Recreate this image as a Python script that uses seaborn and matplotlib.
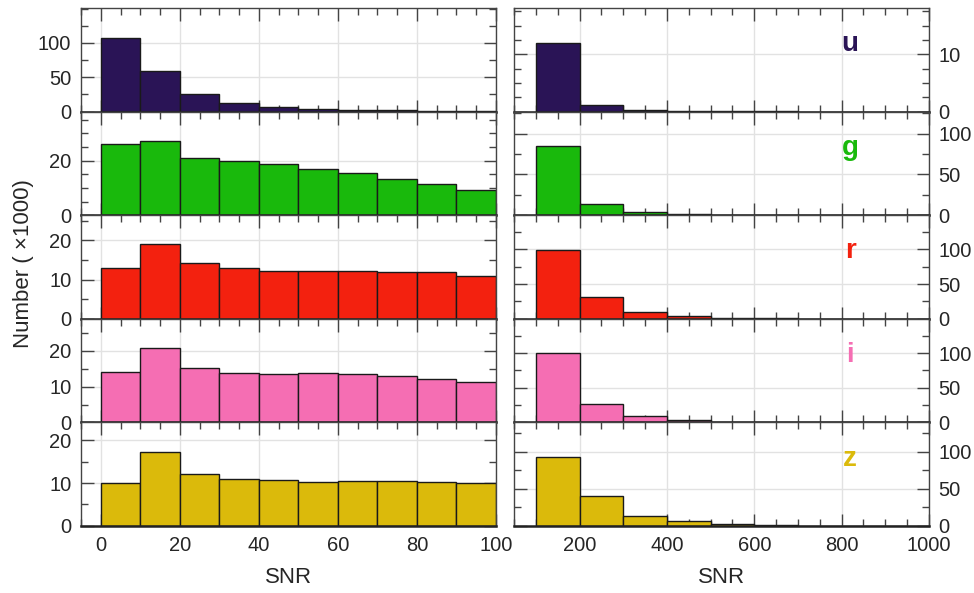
import numpy as np
import pandas as pd
import seaborn as sns
import matplotlib.pyplot as plt
from matplotlib.ticker import MultipleLocator

bands = ['u', 'g', 'r', 'i', 'z']
colors = ['#2a1456', '#19b90c', '#f3210f', '#f56eb3', '#dbba0b']

# bin edges (SNR)
low_edges = [0, 10, 20, 30, 40, 50, 60, 70, 80, 90, 100]
high_edges = [100, 200, 300, 400, 500, 600, 700, 800, 900, 1000]

# counts per bin, in units of 1000
u_low = [107, 58.5, 26, 12.7, 6.8, 3.9, 2.4, 2.0, 1.5, 1.0]
g_low = [26.0, 27.2, 21.1, 19.7, 18.6, 16.8, 15.5, 13.2, 11.3, 9.4]
r_low = [12.9, 19.0, 14.2, 12.9, 12.3, 12.3, 12.3, 12.0, 11.9, 11.0]
i_low = [14.1, 20.8, 15.3, 13.9, 13.6, 13.8, 13.5, 13.0, 12.2, 11.3]
z_low = [10.0, 17.15, 12.2, 11.0, 10.6, 10.2, 10.5, 10.5, 10.2, 10.05]

u_high = [12.06, 1.13, 0.25, 0.08, 0.04, 0.02, 0.01, 0.01, 0.005]
g_high = [85, 14.3, 4.0, 1.2, 0.5, 0.3, 0.15, 0.1, 0.05]
r_high = [99, 30.7, 10.2, 3.5, 1.2, 0.5, 0.25, 0.15, 0.1]
i_high = [99.5, 26, 9, 3.8, 1.2, 0.5, 0.25, 0.15, 0.1]
z_high = [92.8, 39.9, 13.5, 6.3, 3.1, 1.3, 0.6, 0.3, 0.1]

low_counts = [u_low, g_low, r_low, i_low, z_low]
high_counts = [u_high, g_high, r_high, i_high, z_high]

# axis settings per row
low_ylim = [151, 38, 26.4, 29, 24.1]
low_ticks = [[0, 50, 100], [0, 20], [0, 10, 20], [0, 10, 20], [0, 10, 20]]
low_minor = [25, 5, 5, 5, 5]
high_ylim = [18.1, 127, 149, 149.5, 140]
high_ticks = [[0, 10], [0, 50, 100], [0, 50, 100], [0, 50, 100], [0, 50, 100]]
high_minor = [2.5, 25, 25, 25, 25]

sns.set_style("ticks")
plt.rcParams['font.family'] = ['Liberation Sans', 'DejaVu Sans']
plt.rcParams['text.color'] = '#262626'

fig, axes = plt.subplots(5, 2, figsize=(9.74, 5.93), dpi=100)
fig.subplots_adjust(left=0.0832, right=0.9538, top=0.9865, bottom=0.113,
                    hspace=0, wspace=0.0434)

def style_axis(ax, ylim, ticks, minor, right_side):
    ax.set_ylim(0, ylim)
    ax.set_yticks(ticks)
    ax.yaxis.set_minor_locator(MultipleLocator(minor))
    ax.set_axisbelow(True)
    ax.grid(True, which='major', color='#e2e2e2', lw=1)
    ax.tick_params(which='both', direction='in', top=True, bottom=True,
                   left=True, right=True, colors='#444444',
                   labelcolor='#262626', labelsize=14.5, width=1, pad=7)
    ax.tick_params(which='major', length=9)
    ax.tick_params(which='minor', length=5)
    ax.tick_params(axis='y', labelleft=not right_side, labelright=right_side)
    for s in ['top', 'left', 'right']:
        ax.spines[s].set_color('#444444')
        ax.spines[s].set_linewidth(1)
    ax.spines['bottom'].set_color('#222222')
    ax.spines['bottom'].set_linewidth(1.8)
    ax.set_ylabel('')
    ax.set_xlabel('')

for k, band in enumerate(bands):
    axl = axes[k, 0]
    axr = axes[k, 1]
    low_mid = (np.array(low_edges[:-1]) + np.array(low_edges[1:])) / 2
    high_mid = (np.array(high_edges[:-1]) + np.array(high_edges[1:])) / 2
    sns.histplot(x=low_mid, weights=low_counts[k], bins=low_edges, ax=axl,
                 color=colors[k], alpha=1, edgecolor='#1a1a1a', linewidth=1)
    sns.histplot(x=high_mid, weights=high_counts[k], bins=high_edges, ax=axr,
                 color=colors[k], alpha=1, edgecolor='#1a1a1a', linewidth=1)

    axl.set_xlim(-5, 100)
    axl.xaxis.set_major_locator(MultipleLocator(20))
    axl.xaxis.set_minor_locator(MultipleLocator(5))
    axr.set_xlim(50, 1000)
    axr.xaxis.set_major_locator(MultipleLocator(200))
    axr.xaxis.set_minor_locator(MultipleLocator(50))

    style_axis(axl, low_ylim[k], low_ticks[k], low_minor[k], False)
    style_axis(axr, high_ylim[k], high_ticks[k], high_minor[k], True)

    axr.text(0.81, 0.65, band, transform=axr.transAxes, color=colors[k],
             fontsize=20, fontweight='bold', ha='center', va='center')

    if k < 4:
        axl.tick_params(axis='x', labelbottom=False)
        axr.tick_params(axis='x', labelbottom=False)

axes[4, 0].set_xlabel('SNR', fontsize=16, labelpad=9)
axes[4, 1].set_xlabel('SNR', fontsize=16, labelpad=9)
fig.text(0.024, 0.555, 'Number ( \u00d71000)', rotation=90, fontsize=16,
         ha='center', va='center')

fig.savefig('out.png', dpi=100)
